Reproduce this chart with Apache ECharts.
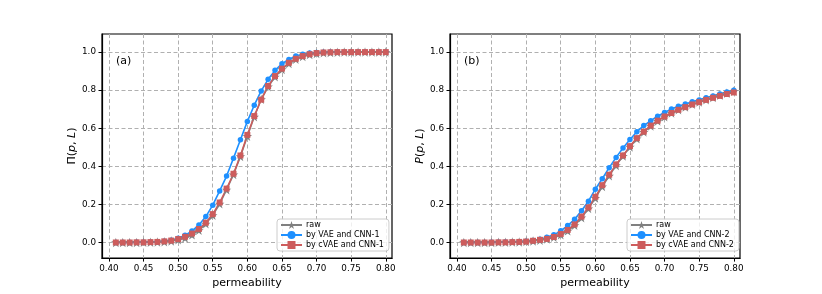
<!DOCTYPE html>
<html>
<head>
<meta charset="utf-8">
<script src="https://cdn.jsdelivr.net/npm/echarts@6/dist/echarts.min.js"></script>
<style>
html,body{margin:0;padding:0;background:#fff;}
#chart{width:822px;height:294px;}
</style>
</head>
<body>
<div id="chart"></div>
<script>
// ---- data ----
const permeability = [0.41,0.42,0.43,0.44,0.45,0.46,0.47,0.48,0.49,0.50,
  0.51,0.52,0.53,0.54,0.55,0.56,0.57,0.58,0.59,0.60,
  0.61,0.62,0.63,0.64,0.65,0.66,0.67,0.68,0.69,0.70,
  0.71,0.72,0.73,0.74,0.75,0.76,0.77,0.78,0.79,0.80];

const rawA = [0,0,0,0,0.001,0.001,0.002,0.004,0.008,0.014,
  0.024,0.040,0.064,0.098,0.143,0.203,0.277,0.357,0.452,0.558,
  0.660,0.752,0.818,0.870,0.909,0.940,0.962,0.977,0.987,0.993,
  0.996,0.998,0.999,1,1,1,1,1,1,1];
const vaeA = [0,0,0,0.001,0.001,0.002,0.004,0.007,0.012,0.022,
  0.038,0.060,0.092,0.136,0.196,0.271,0.349,0.443,0.540,0.636,
  0.721,0.796,0.857,0.904,0.939,0.961,0.979,0.989,0.995,0.998,
  0.999,1,1,1,1,1,1,1,1,1];
const cvaeA = [0,0,0,0.001,0.001,0.002,0.003,0.006,0.010,0.018,
  0.030,0.047,0.071,0.104,0.149,0.210,0.283,0.361,0.457,0.565,
  0.664,0.750,0.822,0.874,0.913,0.944,0.965,0.979,0.989,0.995,
  0.998,0.999,1,1,1,1,1,1,1,1];

const rawB = [0,0,0,0,0,0.001,0.001,0.002,0.003,0.005,
  0.008,0.012,0.018,0.027,0.041,0.061,0.090,0.130,0.178,0.233,
  0.294,0.350,0.405,0.454,0.502,0.545,0.580,0.612,0.638,0.661,
  0.680,0.697,0.712,0.726,0.738,0.750,0.762,0.773,0.784,0.794];
const vaeB = [0,0,0,0,0.001,0.001,0.002,0.003,0.004,0.007,
  0.011,0.017,0.027,0.040,0.061,0.089,0.122,0.167,0.217,0.280,
  0.335,0.393,0.447,0.496,0.541,0.582,0.614,0.640,0.663,0.683,
  0.701,0.715,0.727,0.739,0.749,0.760,0.770,0.780,0.791,0.800];
const cvaeB = [0,0,0,0,0,0.001,0.001,0.002,0.003,0.005,
  0.009,0.014,0.019,0.029,0.045,0.066,0.095,0.136,0.184,0.240,
  0.301,0.356,0.410,0.457,0.506,0.548,0.582,0.614,0.640,0.662,
  0.680,0.697,0.711,0.725,0.737,0.749,0.760,0.770,0.780,0.788];

const xTicks = [0.40,0.45,0.50,0.55,0.60,0.65,0.70,0.75,0.80];
const yTicks = [0.0,0.2,0.4,0.6,0.8,1.0];

const nameRaw = 'raw';
const namesA = ['by VAE and CNN-1','by cVAE and CNN-1'];
const namesB = ['by VAE and CNN-2','by cVAE and CNN-2'];
const panelLabels = ['(a)','(b)'];

// ---- styling helpers ----
const FONT = 'DejaVu Sans';
function starPath(){
  let pts = [];
  for (let i = 0; i < 10; i++) {
    const a = (-90 + i * 36) * Math.PI / 180;
    const r = i % 2 === 0 ? 50 : 19.1;
    pts.push((r * Math.cos(a)).toFixed(2) + ' ' + (r * Math.sin(a)).toFixed(2));
  }
  return 'path://M' + pts.join(' L') + ' Z';
}
const STAR = starPath();
const GRAY = '#808080', BLUE = '#1E90FF', RED = '#CD5C5C';

function pairs(ys){ return permeability.map((x,i)=>[x, ys[i]]); }

function xAxis(gi){
  return {
    type:'value', gridIndex:gi, min:0.39, max:0.809,
    name:'permeability', nameLocation:'middle', nameGap:19,
    nameTextStyle:{fontFamily:FONT, fontSize:11, color:'#000'},
    axisLine:{show:true, onZero:false, lineStyle:{color:'#000', width:1.2}},
    axisTick:{show:true, length:3.5, inside:false, customValues:xTicks, lineStyle:{color:'#000', width:1}},
    axisLabel:{customValues:xTicks, margin:6, fontFamily:FONT, fontSize:8.8, color:'#000',
      formatter:v=>Number(v).toFixed(2)},
    splitLine:{show:true, lineStyle:{color:'#b0b0b0', type:[4,2.5], width:1}}
  };
}
function yAxis(gi, nameRich){
  return {
    type:'value', gridIndex:gi, min:-0.082, max:1.095,
    name:nameRich, nameLocation:'middle', nameGap:24, nameRotate:90,
    nameTextStyle:{fontFamily:FONT, fontSize:11, color:'#000',
      rich:{n:{fontFamily:FONT, fontSize:11, color:'#000'},
            i:{fontFamily:FONT, fontSize:11, fontStyle:'italic', color:'#000'}}},
    axisLine:{show:true, onZero:false, lineStyle:{color:'#000', width:1.2}},
    axisTick:{show:true, length:3.5, customValues:yTicks, lineStyle:{color:'#000', width:1}},
    axisLabel:{customValues:yTicks, margin:6, fontFamily:FONT, fontSize:8.8, color:'#000',
      formatter:v=>Number(v).toFixed(1)},
    splitLine:{show:true, lineStyle:{color:'#b0b0b0', type:[4,2.5], width:1}}
  };
}
function lineSeries(name, gi, ys, color, symbol, size){
  return {
    type:'line', name:name, xAxisIndex:gi, yAxisIndex:gi, data:pairs(ys),
    symbol:symbol, symbolSize:size, showSymbol:true,
    lineStyle:{color:color, width:1.6}, itemStyle:{color:color, borderWidth:0},
    emphasis:{disabled:true}, animation:false
  };
}
function legend(left, names){
  return {
    orient:'vertical', left:left, top:219,
    data:[nameRaw].concat(names),
    itemWidth:21, itemHeight:10, itemGap:2,
    padding:[2,5,2,3],
    borderColor:'#cccccc', borderWidth:1, borderRadius:3,
    backgroundColor:'rgba(255,255,255,0.8)',
    textStyle:{fontFamily:FONT, fontSize:8, color:'#000', padding:[0,0,0,-1]},
    selectedMode:false
  };
}

const chart = echarts.init(document.getElementById('chart'), null, {renderer:'canvas'});
chart.setOption({
  backgroundColor:'#fff',
  animation:false,
  title:[
    {text:panelLabels[0], left:116, top:56, padding:0, textStyle:{fontFamily:FONT, fontSize:11, fontWeight:'normal', color:'#000'}},
    {text:panelLabels[1], left:464, top:56, padding:0, textStyle:{fontFamily:FONT, fontSize:11, fontWeight:'normal', color:'#000'}}
  ],
  grid:[
    {left:102, top:34, width:290, height:226, show:true, borderColor:'#000', borderWidth:1.2, backgroundColor:'transparent'},
    {left:450, top:34, width:290, height:226, show:true, borderColor:'#000', borderWidth:1.2, backgroundColor:'transparent'}
  ],
  xAxis:[xAxis(0), xAxis(1)],
  yAxis:[
    yAxis(0, '{n|Π(}{i|p}{n|, }{i|L}{n|)}'),
    yAxis(1, '{i|P}{n|(}{i|p}{n|, }{i|L}{n|)}')
  ],
  legend:[legend(277, namesA), legend(627, namesB)],
  series:[
    lineSeries(nameRaw, 0, rawA, GRAY, STAR, 9.5),
    lineSeries(namesA[0], 0, vaeA, BLUE, 'circle', 5.5),
    lineSeries(namesA[1], 0, cvaeA, RED, 'rect', 6),
    lineSeries(nameRaw, 1, rawB, GRAY, STAR, 9.5),
    lineSeries(namesB[0], 1, vaeB, BLUE, 'circle', 5.5),
    lineSeries(namesB[1], 1, cvaeB, RED, 'rect', 6)
  ]
});
</script>
</body>
</html>
